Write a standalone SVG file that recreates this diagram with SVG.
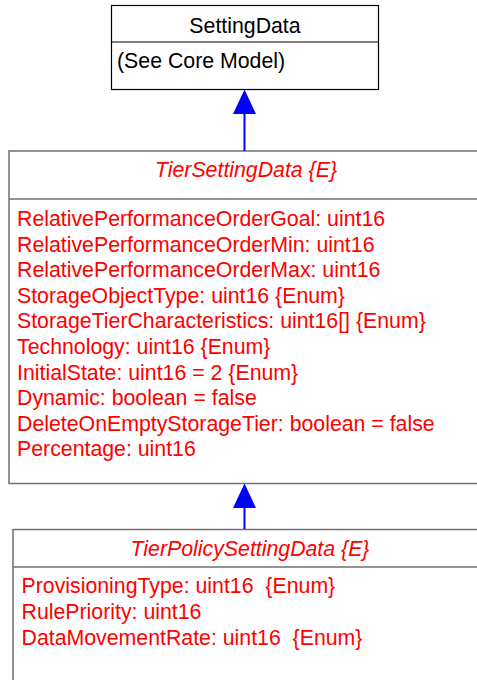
<svg xmlns="http://www.w3.org/2000/svg" width="477" height="680" viewBox="0 0 477 680">
<style>
text{font-family:"Liberation Sans",Arial,sans-serif;font-size:21.3px;white-space:pre}
.blk{fill:#000}
.red{fill:#ff0000}
.it{font-style:italic}
.box{fill:#fff;stroke:#707070;stroke-width:1.5}
.div{stroke:#707070;stroke-width:1.5}
.conn{stroke:#0000ff;stroke-width:2;fill:none}
.head{fill:#0000ff}
</style>
<rect width="477" height="680" fill="#fff"/>
<g id="SettingData">
<rect x="111.5" y="5.5" width="267" height="84" fill="#fff" stroke="#000" stroke-width="1.2"/>
<line x1="111.5" y1="42" x2="378.5" y2="42" stroke="#000" stroke-width="1.2"/>
<text class="blk" x="245" y="33" text-anchor="middle">SettingData</text>
<text class="blk" x="117" y="68">(See Core Model)</text>
</g>
<g id="TierSettingData">
<rect class="box" x="9" y="151" width="475" height="332.5"/>
<line class="div" x1="9" y1="199" x2="484" y2="199"/>
<text class="red it" x="246" y="177" text-anchor="middle">TierSettingData {E}</text>
<text class="red" x="17" y="226">RelativePerformanceOrderGoal: uint16</text>
<text class="red" x="17" y="251.6">RelativePerformanceOrderMin: uint16</text>
<text class="red" x="17" y="277.2">RelativePerformanceOrderMax: uint16</text>
<text class="red" x="17" y="302.8">StorageObjectType: uint16 {Enum}</text>
<text class="red" x="17" y="328.4">StorageTierCharacteristics: uint16[] {Enum}</text>
<text class="red" x="17" y="354">Technology: uint16 {Enum}</text>
<text class="red" x="17" y="379.6">InitialState: uint16 = 2 {Enum}</text>
<text class="red" x="17" y="405.2">Dynamic: boolean = false</text>
<text class="red" x="17" y="430.8">DeleteOnEmptyStorageTier: boolean = false</text>
<text class="red" x="17" y="456.4">Percentage: uint16</text>
</g>
<g id="TierPolicySettingData">
<rect class="box" x="13" y="529.5" width="475" height="160"/>
<line class="div" x1="13" y1="567" x2="488" y2="567"/>
<text class="red it" x="250" y="556" text-anchor="middle">TierPolicySettingData {E}</text>
<text class="red" x="21.5" y="593" xml:space="preserve">ProvisioningType: uint16  {Enum}</text>
<text class="red" x="21.5" y="619">RulePriority: uint16</text>
<text class="red" x="21.5" y="645" xml:space="preserve">DataMovementRate: uint16  {Enum}</text>
</g>
<g id="connectors">
<line class="conn" x1="244.5" y1="151" x2="244.5" y2="113"/>
<path class="head" d="M244.5,89.5 L256,114 L233,114 Z"/>
<line class="conn" x1="244.5" y1="529" x2="244.5" y2="507"/>
<path class="head" d="M244.5,483.5 L256,508 L233,508 Z"/>
</g>
</svg>
